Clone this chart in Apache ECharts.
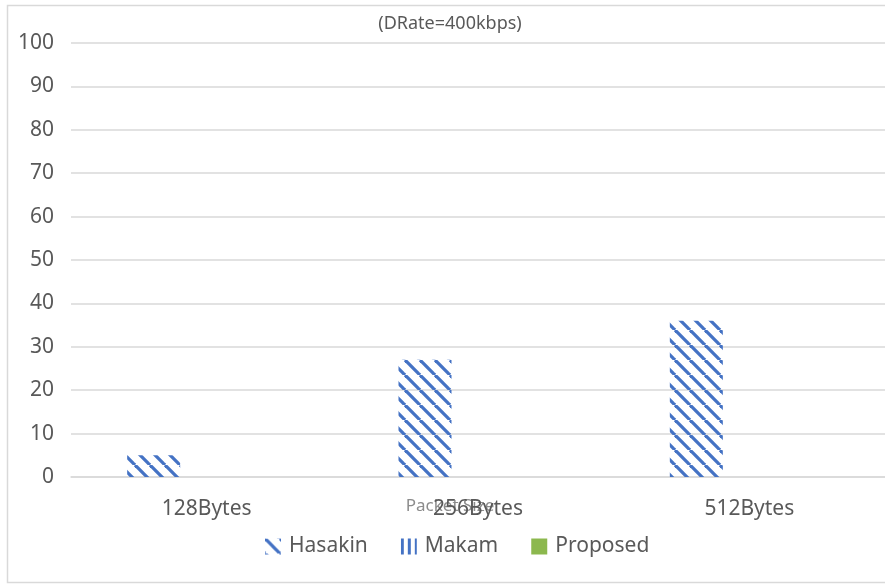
<!DOCTYPE html>
<html>
<head>
<meta charset="utf-8">
<script src="https://cdn.jsdelivr.net/npm/echarts@6/dist/echarts.min.js"></script>
<style>
  html, body { margin: 0; padding: 0; background: #fff; }
  #chart { width: 885px; height: 585px; }
</style>
</head>
<body>
<div id="chart"></div>
<script>
var categories = ["128Bytes", "256Bytes", "512Bytes"];
var seriesNames = ["Hasakin", "Makam", "Proposed"];
var hasakin = [5, 27, 36];
var makam = [0, 0, 0];
var proposed = [0, 0, 0];

var blue = "#4472C4";

// diagonal stripes "\"
function diagPattern() {
    var s = 15, c = document.createElement("canvas");
    c.width = s; c.height = s;
    var g = c.getContext("2d");
    g.strokeStyle = blue;
    g.lineWidth = 3.3;
    [-s, 0, s].forEach(function (x0) {
        g.beginPath();
        g.moveTo(x0, 0);
        g.lineTo(x0 + s, s);
        g.stroke();
    });
    return c;
}

// vertical stripes
function vertPattern() {
    var c = document.createElement("canvas");
    c.width = 7; c.height = 7;
    var g = c.getContext("2d");
    g.fillStyle = blue;
    g.fillRect(0, 0, 3, 7);
    return c;
}

var chart = echarts.init(document.getElementById("chart"));
var font = "Noto Sans";

chart.setOption({
    backgroundColor: "#fff",
    animation: false,
    title: {
        text: "(DRate=400kbps)",
        left: 445, top: 10, textAlign: "center",
        textStyle: { fontFamily: font, fontSize: 18, fontWeight: "normal", color: "#595959" }
    },
    graphic: [{
        type: "rect",
        shape: { x: 7.5, y: 5.5, width: 890, height: 577 },
        style: { fill: "none", stroke: "#d9d9d9", lineWidth: 1.5 },
        silent: true
    }],
    legend: {
        data: seriesNames,
        left: 260, top: 531,
        itemWidth: 16, itemHeight: 16, itemGap: 33,
        icon: "rect",
        textStyle: { fontFamily: font, fontSize: 21, color: "#595959", padding: [0, 0, 0, 3] }
    },
    grid: { left: 71, right: -5, top: 43, bottom: 108 },
    xAxis: {
        type: "category",
        data: categories,
        name: "Packet Size",
        nameLocation: "middle",
        nameGap: 21,
        nameMoveOverlap: false,
        nameTextStyle: { fontFamily: font, fontSize: 17, color: "#8c8c8c", padding: [0, 56, 0, 0] },
        axisLine: { show: true, lineStyle: { color: "#d9d9d9", width: 1.5 } },
        axisTick: { show: false },
        axisLabel: { fontFamily: font, fontSize: 21, color: "#595959", margin: 22 }
    },
    yAxis: {
        type: "value",
        min: 0, max: 100, interval: 10,
        axisLine: { show: false },
        axisTick: { show: false },
        splitLine: { lineStyle: { color: "#d9d9d9", width: 1.5 } },
        axisLabel: { fontFamily: font, fontSize: 21, color: "#595959", margin: 17 }
    },
    series: [
        { name: seriesNames[0], type: "bar", data: hasakin, barWidth: 53, barGap: "0%",
          itemStyle: { color: { image: diagPattern(), repeat: "repeat" } } },
        { name: seriesNames[1], type: "bar", data: makam, barWidth: 53, barGap: "0%",
          itemStyle: { color: { image: vertPattern(), repeat: "repeat" } } },
        { name: seriesNames[2], type: "bar", data: proposed, barWidth: 53, barGap: "0%",
          itemStyle: { color: "#8CB84E" } }
    ]
});
</script>
</body>
</html>
